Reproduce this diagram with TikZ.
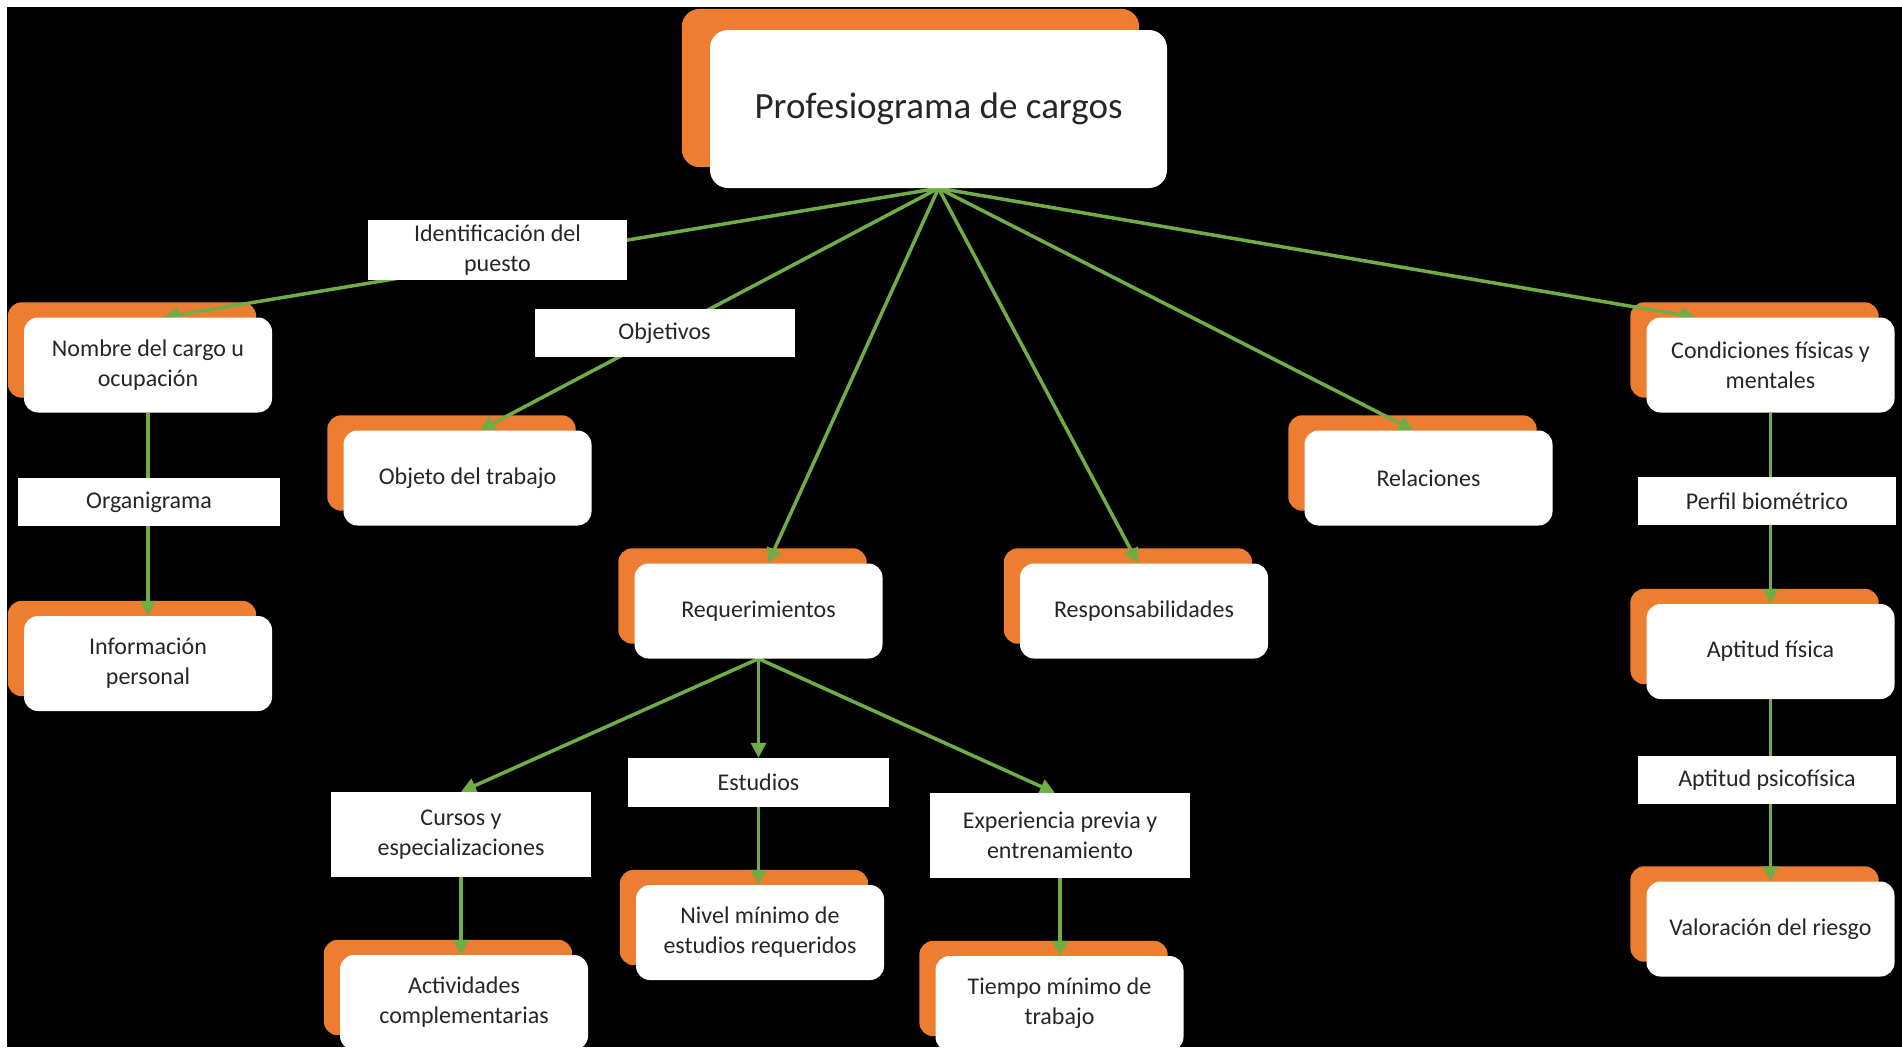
\documentclass[tikz,border=0pt]{standalone}
\usepackage{fontspec}
\setmainfont{Carlito}
\usetikzlibrary{arrows.meta,calc}
\pgfdeclarelayer{canvas}
\pgfdeclarelayer{back}
\pgfdeclarelayer{arrows}
\pgfsetlayers{canvas,back,arrows,main}
\definecolor{orng}{HTML}{ED7D31}
\definecolor{grn}{HTML}{70AD47}
\definecolor{txt}{HTML}{262626}
\begin{document}
\begin{tikzpicture}[x=1pt,y=-1pt,
  box/.style={fill=white, rounded corners=14pt, minimum width=248pt, minimum height=95pt,
    align=center, font=\fontsize{24}{30}\selectfont, text=txt, inner sep=0pt},
  lbl/.style={fill=white, minimum width=260pt, minimum height=48pt,
    align=center, font=\fontsize{24}{30}\selectfont, text=txt, inner sep=0pt},
  arr/.style={draw=grn, line width=3.5pt, -{Triangle[length=15pt,width=15pt]}},
  shadowbox/.style={fill=orng, rounded corners=14pt}]

\useasboundingbox (0,0) rectangle (1902,1047);
\begin{pgfonlayer}{canvas}
\fill[white] (0,0) rectangle (1902,1047);
\fill[black] (7,7) rectangle (1902,1047);
\end{pgfonlayer}

% main boxes
\node[box, minimum width=457pt, minimum height=158pt, rounded corners=18pt,
  font=\fontsize{37}{44}\selectfont] (title) at (938.5,109) {\raisebox{-5pt}{Profesiograma de cargos}};
\node[box] (nombre) at (148,365) {Nombre del cargo u\\ocupación};
\node[box] (info) at (148,663.5) {Información\\personal};
\node[box] (objeto) at (467.5,478) {Objeto del trabajo};
\node[box] (req) at (758.5,611) {Requerimientos};
\node[box] (resp) at (1144,611) {Responsabilidades};
\node[box] (rel) at (1428.5,478) {Relaciones};
\node[box] (cond) at (1770.5,365) {Condiciones físicas y\\mentales};
\node[box] (aptf) at (1770.5,651.5) {Aptitud física};
\node[box] (valor) at (1770.5,929) {Valoración del riesgo};
\node[box] (activ) at (464,1002.5) {Actividades\\complementarias};
\node[box] (nivel) at (760,932.5) {Nivel mínimo de\\estudios requeridos};
\node[box] (tiempo) at (1059.5,1003.5) {Tiempo mínimo de\\trabajo};

% labels
\node[lbl, minimum width=259pt, minimum height=60pt] (ident) at (497.5,250) {Identificación del\\puesto};
\node[lbl] (objetivos) at (664.5,333) {Objetivos};
\node[lbl, minimum width=262pt] (organ) at (149,502) {Organigrama};
\node[lbl, minimum width=258pt] (perfil) at (1767,501) {Perfil biométrico};
\node[lbl, minimum width=258pt] (psico) at (1767,780) {Aptitud psicofísica};
\node[lbl, minimum height=85pt] (cursos) at (461,834.5) {Cursos y\\especializaciones};
\node[lbl, minimum width=261pt, minimum height=49pt] (estudios) at (758.5,782.5) {Estudios};
\node[lbl, minimum height=85pt] (exper) at (1060,835.5) {Experiencia previa y\\entrenamiento};

% orange shadows
\begin{pgfonlayer}{back}
\fill[shadowbox, rounded corners=18pt] ([shift={(-28,-21)}]title.south west) rectangle ([shift={(-28,-21)}]title.north east);
\foreach \n in {nombre,info,objeto,req,resp,rel,cond,aptf,valor,activ,nivel,tiempo}{
  \fill[shadowbox] ([shift={(-16,-15)}]\n.south west) rectangle ([shift={(-16,-15)}]\n.north east);
}
\end{pgfonlayer}

% connectors
\begin{pgfonlayer}{arrows}
\coordinate (hub) at (title.south);
\draw[arr] (hub) -- ([xshift=16pt]nombre.north);
\draw[arr] (hub) -- ([xshift=12.5pt]objeto.north);
\draw[arr] (hub) -- ([xshift=9.5pt]req.north);
\draw[arr] (hub) -- ([xshift=-6pt]resp.north);
\draw[arr] (hub) -- ([xshift=-15pt]rel.north);
\draw[arr] (hub) -- ([xshift=-75pt]cond.north);
\draw[arr] (nombre.south) -- (info.north);
\draw[arr] (cond.south) -- (aptf.north);
\draw[arr] (aptf.south) -- (valor.north);
\coordinate (rhub) at (req.south);
\draw[arr] (rhub) -- (cursos.north);
\draw[arr] (rhub) -- (estudios.north);
\draw[arr] (rhub) -- ([xshift=-5pt]exper.north);
\draw[arr] (cursos.south) -- (cursos.south |- activ.north);
\draw[arr] (estudios.south) -- (estudios.south |- nivel.north);
\draw[arr] (exper.south) -- (exper.south |- tiempo.north);
\end{pgfonlayer}
\end{tikzpicture}
\end{document}
